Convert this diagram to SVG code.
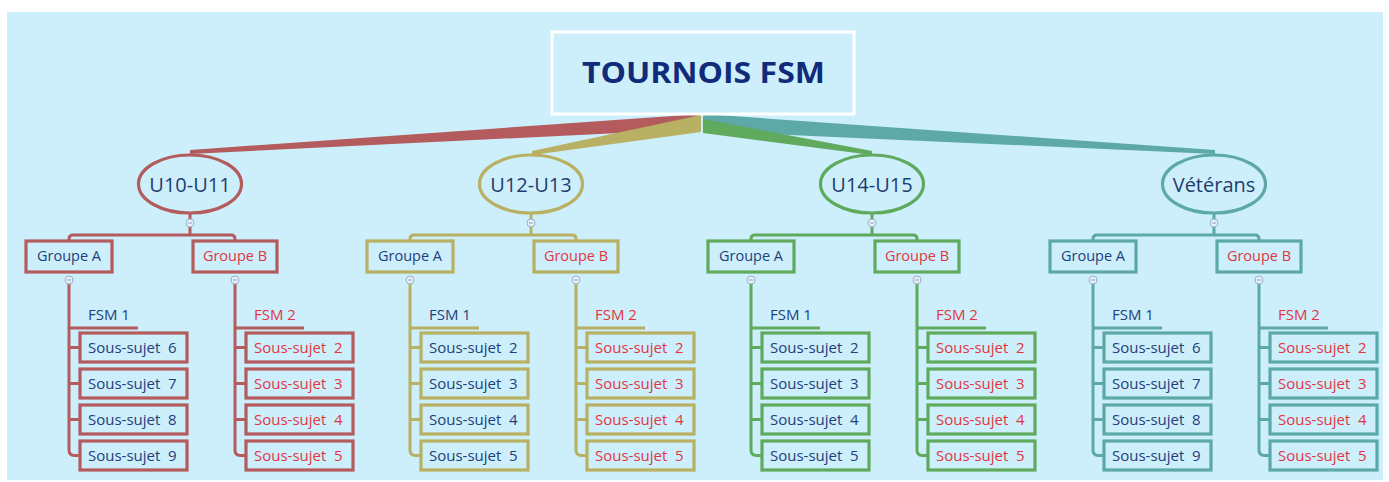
<svg xmlns="http://www.w3.org/2000/svg" width="1389" height="482" viewBox="0 0 1389 482">
<defs>
<style>
.bg{fill:#cdeefb}
.ln{fill:none;stroke-width:3;stroke-linejoin:round}
.bx{fill:none;stroke-width:3.2}
.el{fill:none;stroke-width:3.2}
.c1 .ln,.c1 .bx,.c1 .el{stroke:#b45b5d}
.c2 .ln,.c2 .bx,.c2 .el{stroke:#b8b062}
.c3 .ln,.c3 .bx,.c3 .el{stroke:#5faa5c}
.c4 .ln,.c4 .bx,.c4 .el{stroke:#5ca9a8}
.t{font-family:"Open Sans","Noto Sans",sans-serif}
.cat{font-size:20px;fill:#1f3d6e;text-anchor:middle}
.grp{font-size:14.5px;text-anchor:middle}
.sub{font-size:15px}
.blu{fill:#22407a}
.red{fill:#e2363f}
.tog{fill:#e6f0f7;stroke:#9cb0c8;stroke-width:1}
.togm{stroke:#8ea2bc;stroke-width:1}
</style>
<g id="toggle"><circle class="tog" cx="0" cy="0" r="4"/><path class="togm" d="M-2 0H2"/></g>
</defs>
<rect x="0" y="0" width="1389" height="482" fill="#ffffff"/>
<rect class="bg" x="7" y="12" width="1376" height="468"/>

<g id="connectors">
  <polygon points="701,114 190,150 190,154 701,129" fill="#b45b5d"/>
  <polygon points="703,114 1215,150 1215,154 703,131" fill="#5ca9a8"/>
  <polygon points="701,115 532,151 532,155 701,132" fill="#b8b062"/>
  <polygon points="703,119 872,151 872,155 703,133" fill="#5faa5c"/>
  <g class="c1" transform="translate(190,0)">
    <path class="ln" d="M0 213V235"/>
    <path class="ln" d="M-121 241V239Q-121 235 -117 235H41Q45 235 45 239V241"/>
    <path class="ln" d="M-121 284V450Q-121 455.5 -115.5 455.5H-110M-121 347.5H-110M-121 383.5H-110M-121 419.5H-110M-121 328H-52"/>
    <path class="ln" d="M45 284V450Q45 455.5 50.5 455.5H56M45 347.5H56M45 383.5H56M45 419.5H56M45 328H114"/>
    <use href="#toggle" x="0" y="223"/><use href="#toggle" x="-121" y="280"/><use href="#toggle" x="45" y="280"/>
  </g>
  <g class="c2" transform="translate(531,0)">
    <path class="ln" d="M0 213V235"/>
    <path class="ln" d="M-121 241V239Q-121 235 -117 235H41Q45 235 45 239V241"/>
    <path class="ln" d="M-121 284V450Q-121 455.5 -115.5 455.5H-110M-121 347.5H-110M-121 383.5H-110M-121 419.5H-110M-121 328H-52"/>
    <path class="ln" d="M45 284V450Q45 455.5 50.5 455.5H56M45 347.5H56M45 383.5H56M45 419.5H56M45 328H114"/>
    <use href="#toggle" x="0" y="223"/><use href="#toggle" x="-121" y="280"/><use href="#toggle" x="45" y="280"/>
  </g>
  <g class="c3" transform="translate(872,0)">
    <path class="ln" d="M0 213V235"/>
    <path class="ln" d="M-121 241V239Q-121 235 -117 235H41Q45 235 45 239V241"/>
    <path class="ln" d="M-121 284V450Q-121 455.5 -115.5 455.5H-110M-121 347.5H-110M-121 383.5H-110M-121 419.5H-110M-121 328H-52"/>
    <path class="ln" d="M45 284V450Q45 455.5 50.5 455.5H56M45 347.5H56M45 383.5H56M45 419.5H56M45 328H114"/>
    <use href="#toggle" x="0" y="223"/><use href="#toggle" x="-121" y="280"/><use href="#toggle" x="45" y="280"/>
  </g>
  <g class="c4" transform="translate(1214,0)">
    <path class="ln" d="M0 213V235"/>
    <path class="ln" d="M-121 241V239Q-121 235 -117 235H41Q45 235 45 239V241"/>
    <path class="ln" d="M-121 284V450Q-121 455.5 -115.5 455.5H-110M-121 347.5H-110M-121 383.5H-110M-121 419.5H-110M-121 328H-52"/>
    <path class="ln" d="M45 284V450Q45 455.5 50.5 455.5H56M45 347.5H56M45 383.5H56M45 419.5H56M45 328H114"/>
    <use href="#toggle" x="0" y="223"/><use href="#toggle" x="-121" y="280"/><use href="#toggle" x="45" y="280"/>
  </g>
</g>

<g id="root">
  <rect x="552" y="32" width="302" height="82" fill="none" stroke="#ffffff" stroke-width="3"/>
  <text class="t" x="703.5" y="83" font-size="29" font-weight="bold" fill="#102b7a" text-anchor="middle" textLength="243" lengthAdjust="spacingAndGlyphs">TOURNOIS FSM</text>
</g>

<g id="nodes" class="t">
 <g class="c1" transform="translate(190,0)">
  <g id="u10"><ellipse class="el" cx="0" cy="184" rx="51.5" ry="29"/><text class="t cat" x="0" y="192">U10-U11</text></g>
  <g id="u10-ga"><rect class="bx" x="-164" y="241" width="86" height="31"/><text class="t grp blu" x="-121" y="261">Groupe A</text></g>
  <g id="u10-gb"><rect class="bx" x="3" y="241" width="84" height="31"/><text class="t grp red" x="45" y="261">Groupe B</text></g>
  <g id="u10-fsm1"><text class="t sub blu" x="-102" y="320">FSM 1</text></g>
  <g id="u10-fsm2"><text class="t sub red" x="64" y="320">FSM 2</text></g>
  <g id="u10-a6"><rect class="bx" x="-110" y="333" width="107" height="29"/><text class="t sub blu" x="-102" y="353" xml:space="preserve">Sous-sujet  6</text></g>
  <g id="u10-a7"><rect class="bx" x="-110" y="369" width="107" height="29"/><text class="t sub blu" x="-102" y="389" xml:space="preserve">Sous-sujet  7</text></g>
  <g id="u10-a8"><rect class="bx" x="-110" y="405" width="107" height="29"/><text class="t sub blu" x="-102" y="425" xml:space="preserve">Sous-sujet  8</text></g>
  <g id="u10-a9"><rect class="bx" x="-110" y="441" width="107" height="29"/><text class="t sub blu" x="-102" y="461" xml:space="preserve">Sous-sujet  9</text></g>
  <g id="u10-b2"><rect class="bx" x="56" y="333" width="107" height="29"/><text class="t sub red" x="64" y="353" xml:space="preserve">Sous-sujet  2</text></g>
  <g id="u10-b3"><rect class="bx" x="56" y="369" width="107" height="29"/><text class="t sub red" x="64" y="389" xml:space="preserve">Sous-sujet  3</text></g>
  <g id="u10-b4"><rect class="bx" x="56" y="405" width="107" height="29"/><text class="t sub red" x="64" y="425" xml:space="preserve">Sous-sujet  4</text></g>
  <g id="u10-b5"><rect class="bx" x="56" y="441" width="107" height="29"/><text class="t sub red" x="64" y="461" xml:space="preserve">Sous-sujet  5</text></g>
 </g>
 <g class="c2" transform="translate(531,0)">
  <g id="u12"><ellipse class="el" cx="0" cy="184" rx="51.5" ry="29"/><text class="t cat" x="0" y="192">U12-U13</text></g>
  <g id="u12-ga"><rect class="bx" x="-164" y="241" width="86" height="31"/><text class="t grp blu" x="-121" y="261">Groupe A</text></g>
  <g id="u12-gb"><rect class="bx" x="3" y="241" width="84" height="31"/><text class="t grp red" x="45" y="261">Groupe B</text></g>
  <g id="u12-fsm1"><text class="t sub blu" x="-102" y="320">FSM 1</text></g>
  <g id="u12-fsm2"><text class="t sub red" x="64" y="320">FSM 2</text></g>
  <g id="u12-a2"><rect class="bx" x="-110" y="333" width="107" height="29"/><text class="t sub blu" x="-102" y="353" xml:space="preserve">Sous-sujet  2</text></g>
  <g id="u12-a3"><rect class="bx" x="-110" y="369" width="107" height="29"/><text class="t sub blu" x="-102" y="389" xml:space="preserve">Sous-sujet  3</text></g>
  <g id="u12-a4"><rect class="bx" x="-110" y="405" width="107" height="29"/><text class="t sub blu" x="-102" y="425" xml:space="preserve">Sous-sujet  4</text></g>
  <g id="u12-a5"><rect class="bx" x="-110" y="441" width="107" height="29"/><text class="t sub blu" x="-102" y="461" xml:space="preserve">Sous-sujet  5</text></g>
  <g id="u12-b2"><rect class="bx" x="56" y="333" width="107" height="29"/><text class="t sub red" x="64" y="353" xml:space="preserve">Sous-sujet  2</text></g>
  <g id="u12-b3"><rect class="bx" x="56" y="369" width="107" height="29"/><text class="t sub red" x="64" y="389" xml:space="preserve">Sous-sujet  3</text></g>
  <g id="u12-b4"><rect class="bx" x="56" y="405" width="107" height="29"/><text class="t sub red" x="64" y="425" xml:space="preserve">Sous-sujet  4</text></g>
  <g id="u12-b5"><rect class="bx" x="56" y="441" width="107" height="29"/><text class="t sub red" x="64" y="461" xml:space="preserve">Sous-sujet  5</text></g>
 </g>
 <g class="c3" transform="translate(872,0)">
  <g id="u14"><ellipse class="el" cx="0" cy="184" rx="51.5" ry="29"/><text class="t cat" x="0" y="192">U14-U15</text></g>
  <g id="u14-ga"><rect class="bx" x="-164" y="241" width="86" height="31"/><text class="t grp blu" x="-121" y="261">Groupe A</text></g>
  <g id="u14-gb"><rect class="bx" x="3" y="241" width="84" height="31"/><text class="t grp red" x="45" y="261">Groupe B</text></g>
  <g id="u14-fsm1"><text class="t sub blu" x="-102" y="320">FSM 1</text></g>
  <g id="u14-fsm2"><text class="t sub red" x="64" y="320">FSM 2</text></g>
  <g id="u14-a2"><rect class="bx" x="-110" y="333" width="107" height="29"/><text class="t sub blu" x="-102" y="353" xml:space="preserve">Sous-sujet  2</text></g>
  <g id="u14-a3"><rect class="bx" x="-110" y="369" width="107" height="29"/><text class="t sub blu" x="-102" y="389" xml:space="preserve">Sous-sujet  3</text></g>
  <g id="u14-a4"><rect class="bx" x="-110" y="405" width="107" height="29"/><text class="t sub blu" x="-102" y="425" xml:space="preserve">Sous-sujet  4</text></g>
  <g id="u14-a5"><rect class="bx" x="-110" y="441" width="107" height="29"/><text class="t sub blu" x="-102" y="461" xml:space="preserve">Sous-sujet  5</text></g>
  <g id="u14-b2"><rect class="bx" x="56" y="333" width="107" height="29"/><text class="t sub red" x="64" y="353" xml:space="preserve">Sous-sujet  2</text></g>
  <g id="u14-b3"><rect class="bx" x="56" y="369" width="107" height="29"/><text class="t sub red" x="64" y="389" xml:space="preserve">Sous-sujet  3</text></g>
  <g id="u14-b4"><rect class="bx" x="56" y="405" width="107" height="29"/><text class="t sub red" x="64" y="425" xml:space="preserve">Sous-sujet  4</text></g>
  <g id="u14-b5"><rect class="bx" x="56" y="441" width="107" height="29"/><text class="t sub red" x="64" y="461" xml:space="preserve">Sous-sujet  5</text></g>
 </g>
 <g class="c4" transform="translate(1214,0)">
  <g id="vet"><ellipse class="el" cx="0" cy="184" rx="51.5" ry="29"/><text class="t cat" x="0" y="192">Vétérans</text></g>
  <g id="vet-ga"><rect class="bx" x="-164" y="241" width="86" height="31"/><text class="t grp blu" x="-121" y="261">Groupe A</text></g>
  <g id="vet-gb"><rect class="bx" x="3" y="241" width="84" height="31"/><text class="t grp red" x="45" y="261">Groupe B</text></g>
  <g id="vet-fsm1"><text class="t sub blu" x="-102" y="320">FSM 1</text></g>
  <g id="vet-fsm2"><text class="t sub red" x="64" y="320">FSM 2</text></g>
  <g id="vet-a6"><rect class="bx" x="-110" y="333" width="107" height="29"/><text class="t sub blu" x="-102" y="353" xml:space="preserve">Sous-sujet  6</text></g>
  <g id="vet-a7"><rect class="bx" x="-110" y="369" width="107" height="29"/><text class="t sub blu" x="-102" y="389" xml:space="preserve">Sous-sujet  7</text></g>
  <g id="vet-a8"><rect class="bx" x="-110" y="405" width="107" height="29"/><text class="t sub blu" x="-102" y="425" xml:space="preserve">Sous-sujet  8</text></g>
  <g id="vet-a9"><rect class="bx" x="-110" y="441" width="107" height="29"/><text class="t sub blu" x="-102" y="461" xml:space="preserve">Sous-sujet  9</text></g>
  <g id="vet-b2"><rect class="bx" x="56" y="333" width="107" height="29"/><text class="t sub red" x="64" y="353" xml:space="preserve">Sous-sujet  2</text></g>
  <g id="vet-b3"><rect class="bx" x="56" y="369" width="107" height="29"/><text class="t sub red" x="64" y="389" xml:space="preserve">Sous-sujet  3</text></g>
  <g id="vet-b4"><rect class="bx" x="56" y="405" width="107" height="29"/><text class="t sub red" x="64" y="425" xml:space="preserve">Sous-sujet  4</text></g>
  <g id="vet-b5"><rect class="bx" x="56" y="441" width="107" height="29"/><text class="t sub red" x="64" y="461" xml:space="preserve">Sous-sujet  5</text></g>
 </g>
</g>
</svg>
